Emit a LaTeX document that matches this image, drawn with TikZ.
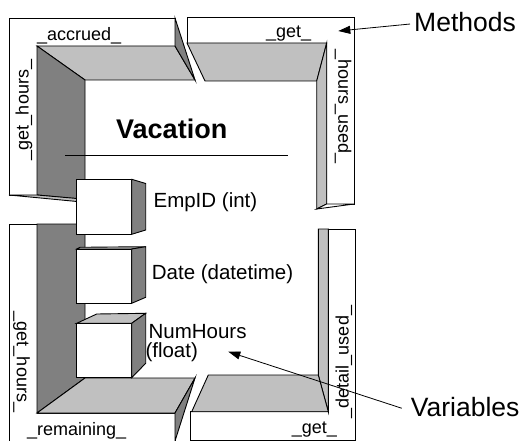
\documentclass[tikz,border=0pt]{standalone}
\usepackage{fontspec}
\setmainfont{Liberation Sans}
\usetikzlibrary{arrows.meta}
\definecolor{facedark}{HTML}{808080}
\definecolor{facelight}{HTML}{C0C0C0}
\begin{document}
\begin{tikzpicture}[x=1pt, y=-1pt, line join=miter,
  edge/.style={draw=black, line width=0.9pt},
  panel/.style={edge, fill=white},
  darkface/.style={edge, fill=facedark},
  lightface/.style={edge, fill=facelight},
  method/.style={font=\fontsize{18}{18}\selectfont, inner sep=0pt},
  member/.style={font=\fontsize{20.5}{24}\selectfont, inner sep=0pt, anchor=base west},
  callout/.style={font=\fontsize{26.5}{30}\selectfont, inner sep=0pt, anchor=base west},
  pointer/.style={draw, line width=0.8pt, -{Triangle[length=12pt,width=8pt]}},
]
\useasboundingbox (0,0) rectangle (525,441);
\clip (0,0) rectangle (525,441);

% ---- upper left block: _accrued_ / _get_hours_
\draw[panel] (9,18) -- (175,18) -- (175,46) -- (37,46) -- (37,195) -- (9,195) -- cycle;
\draw[lightface] (37,46) -- (175,46) -- (195,80) -- (85,80) -- cycle;
\draw[darkface] (175,18) -- (175,46) -- (195,80) -- cycle;
\draw[darkface] (37,46) -- (85,80) -- (85,199.5) -- (37,195) -- cycle;
\draw[lightface] (9,195) -- (37,195) -- (77,198.5) -- (77,201.5) -- cycle;

% ---- upper right block: _get_ / _hours_used_
\draw[panel] (187,17) -- (354,17) -- (354,204) -- (326.7,204) -- (326.7,43) -- (187,43) -- cycle;
\draw[lightface] (187,43) -- (326.7,43) -- (316.7,81) -- (205,81) -- cycle;
\draw[lightface] (316.7,81) -- (326.7,43) -- (326.7,204) -- (316.7,209) -- cycle;
\draw[panel] (316.7,209) -- (326.7,204) -- (354,204) -- cycle;

% ---- lower left block: _get_hours_ / _remaining_
\draw[panel] (9,224) -- (37,224) -- (37,413) -- (175,413) -- (175,444) -- (9,444) -- cycle;
\draw[darkface] (37,224) -- (85,224) -- (85,378) -- (37,413) -- cycle;
\draw[lightface] (37,413) -- (85,378) -- (195,378) -- (175,413) -- cycle;
\draw[darkface] (195,378) -- (175,413) -- (175,441) -- cycle;

% ---- lower right block: _get_ / _detail_used_
\draw[panel] (328.3,229) -- (355.7,229) -- (355.7,440) -- (190,440) -- (190,411.7) -- (328.3,411.7) -- cycle;
\draw[lightface] (318.3,229) -- (328.3,229) -- (328.3,411.7) -- (318.3,375) -- cycle;
\draw[lightface] (208.3,375) -- (318.3,375) -- (328.3,411.7) -- (191.7,411.7) -- cycle;

% ---- method labels
\node[method, anchor=base west] (accrued) at (37,40.7) {\_accrued\_};
\node[method, rotate=90] (gethoursA) at (24,110) {\_get\_hours\_};
\node[method, anchor=base west] (getA) at (266,37.7) {\_get\_};
\node[method, rotate=-90] (hoursused) at (343,106.5) {\_hours\_used\_};
\node[method, rotate=-90] (gethoursB) at (21.5,362) {\_get\_hours\_};
\node[method, anchor=base west] (remaining) at (27,435.7) {\_remaining\_};
\node[method, anchor=base west] (getB) at (291.7,433.3) {\_get\_};
\node[method, rotate=90] (detailused) at (344,362) {\_detail\_used\_};

% ---- class name and divider
\node[font=\bfseries\fontsize{27}{30}\selectfont, inner sep=0pt, anchor=base west] (title) at (116,138.3) {Vacation};
\draw[line width=0.8pt] (65,155.5) -- (288,155.5);

% ---- attribute cubes
\draw[panel] (76.7,179.3) rectangle (131.7,234.3);
\draw[darkface] (131.7,179.3) -- (145.7,183.5) -- (145.7,230) -- (131.7,234.3) -- cycle;

\draw[lightface] (76.7,249) -- (80,247.3) -- (145.7,246.7) -- (131.7,249) -- cycle;
\draw[panel] (76.7,249) rectangle (131.7,303.3);
\draw[darkface] (131.7,249) -- (145.7,246.7) -- (145.7,297.3) -- (131.7,303.3) -- cycle;

\draw[lightface] (76.7,323.3) -- (96.7,314) -- (145.7,313.3) -- (131.7,323.3) -- cycle;
\draw[panel] (76.7,323.3) rectangle (131.7,377.7);
\draw[darkface] (131.7,323.3) -- (145.7,313.3) -- (145.7,363.3) -- (131.7,377.7) -- cycle;

% ---- attribute labels
\node[member] (empid) at (153.4,207.3) {EmpID (int)};
\node[member] (date) at (151.7,279) {Date (datetime)};
\node[member] (numhours) at (148.4,338.3) {NumHours};
\node[member] (float) at (145.3,357) {(float)};

% ---- callouts
\node[callout] (methods) at (414,31.5) {Methods};
\node[callout] (variables) at (410.7,416.7) {Variables};
\coordinate (methodtip) at (338.3,31);
\coordinate (vartip) at (228.3,351.7);
\draw[pointer] ([shift={(-4pt,-2pt)}]methods.west) -- (methodtip);
\draw[pointer] ([shift={(-9pt,-1pt)}]variables.west) -- (vartip);
\end{tikzpicture}
\end{document}
